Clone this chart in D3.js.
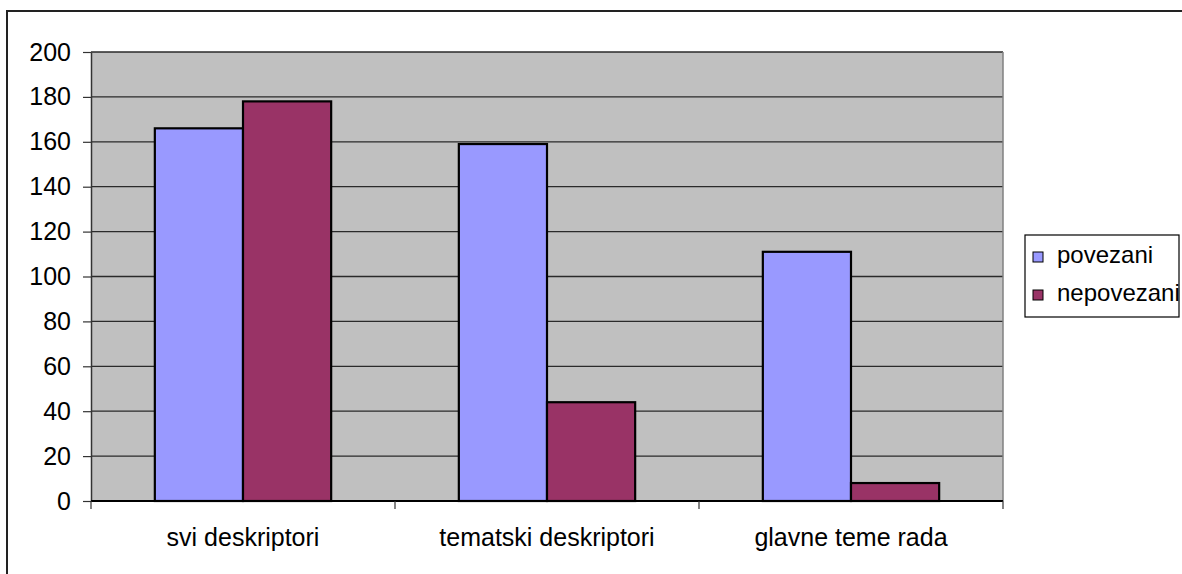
<!DOCTYPE html>
<html>
<head>
<meta charset="utf-8">
<script src="https://cdn.jsdelivr.net/npm/d3@7"></script>
<style>
  body { margin: 0; background: #fff; }
  svg { display: block; font-family: "Liberation Sans", Arial, sans-serif; }
</style>
</head>
<body>
<div id="chart"></div>
<script>
// Data
const categories = ['svi deskriptori', 'tematski deskriptori', 'glavne teme rada'];
const seriesNames = ['povezani', 'nepovezani'];
const povezani = [166, 159, 111];
const nepovezani = [178, 44, 8];
const yTicks = [0, 20, 40, 60, 80, 100, 120, 140, 160, 180, 200];
const colors = ['#9999ff', '#993366'];

const data = categories.map((c, i) => ({ cat: c, values: [povezani[i], nepovezani[i]] }));

// Config
const width = 1182;
const height = 574;
const plot = { left: 91, right: 1003, top: 52, bottom: 501 };

const svg = d3.select('#chart').append('svg')
  .attr('width', width)
  .attr('height', height);

// Outer frame (cropped on right and bottom)
svg.append('rect')
  .attr('x', 7).attr('y', 11)
  .attr('width', 1300).attr('height', 700)
  .attr('fill', '#fff')
  .attr('stroke', '#222')
  .attr('stroke-width', 2);

// Scales
const x0 = d3.scaleBand()
  .domain(categories)
  .range([plot.left, plot.right])
  .paddingInner(0.42)
  .paddingOuter(0.21);

const x1 = d3.scaleBand()
  .domain(seriesNames)
  .range([0, x0.bandwidth()]);

const y = d3.scaleLinear()
  .domain([0, 200])
  .range([plot.bottom, plot.top]);

// Plot background
svg.append('rect')
  .attr('x', plot.left).attr('y', plot.top)
  .attr('width', plot.right - plot.left)
  .attr('height', plot.bottom - plot.top)
  .attr('fill', '#c0c0c0');

// Gridlines
svg.append('g')
  .selectAll('line')
  .data(yTicks.filter(d => d > 0))
  .join('line')
  .attr('x1', plot.left).attr('x2', plot.right)
  .attr('y1', d => y(d)).attr('y2', d => y(d))
  .attr('stroke', '#2a2a2a')
  .attr('stroke-width', 1.3);

// Right edge of plot area
svg.append('line')
  .attr('x1', plot.right).attr('x2', plot.right)
  .attr('y1', plot.top).attr('y2', plot.bottom)
  .attr('stroke', '#808080')
  .attr('stroke-width', 1.5);

// Bars
svg.append('g')
  .selectAll('g')
  .data(data)
  .join('g')
  .attr('transform', d => `translate(${x0(d.cat)},0)`)
  .selectAll('rect')
  .data(d => d.values.map((v, i) => ({ key: seriesNames[i], value: v, i })))
  .join('rect')
  .attr('x', d => x1(d.key))
  .attr('width', x1.bandwidth())
  .attr('y', d => y(d.value))
  .attr('height', d => y(0) - y(d.value))
  .attr('fill', d => colors[d.i])
  .attr('stroke', '#000')
  .attr('stroke-width', 2.2);

// Y axis
const yAxis = svg.append('g')
  .attr('transform', `translate(${plot.left},0)`)
  .call(d3.axisLeft(y).tickValues(yTicks).tickSize(8).tickPadding(12).tickSizeOuter(0));
yAxis.select('.domain').attr('stroke', '#333').attr('stroke-width', 1.5);
yAxis.selectAll('.tick line').attr('stroke', '#333').attr('stroke-width', 1.2);
yAxis.selectAll('.tick text')
  .attr('font-size', 25)
  .attr('font-family', '"Liberation Sans", Arial, sans-serif')
  .attr('fill', '#000');

// X axis - ticks on category boundaries
const boundaries = [plot.left].concat(categories.map(c => x0(c) + x0.bandwidth() + x0.paddingOuter() * x0.step()));
const xAxis = svg.append('g');
xAxis.append('line')
  .attr('x1', plot.left).attr('x2', plot.right)
  .attr('y1', plot.bottom).attr('y2', plot.bottom)
  .attr('stroke', '#000').attr('stroke-width', 2);
xAxis.selectAll('.xtick')
  .data(boundaries)
  .join('line')
  .attr('class', 'xtick')
  .attr('x1', d => d).attr('x2', d => d)
  .attr('y1', plot.bottom).attr('y2', plot.bottom + 8)
  .attr('stroke', '#333').attr('stroke-width', 1.2);
xAxis.selectAll('text')
  .data(categories)
  .join('text')
  .attr('x', d => x0(d) + x0.bandwidth() / 2)
  .attr('y', 546)
  .attr('text-anchor', 'middle')
  .attr('font-size', 25)
  .attr('fill', '#000')
  .text(d => d);

// Legend
const legend = svg.append('g');
legend.append('rect')
  .attr('x', 1025).attr('y', 235)
  .attr('width', 154).attr('height', 82)
  .attr('fill', '#fff')
  .attr('stroke', '#000')
  .attr('stroke-width', 1.2);
const items = legend.selectAll('g')
  .data(seriesNames)
  .join('g')
  .attr('transform', (d, i) => `translate(1033,${252 + i * 38})`);
items.append('rect')
  .attr('width', 10).attr('height', 10)
  .attr('fill', (d, i) => colors[i])
  .attr('stroke', '#000')
  .attr('stroke-width', 1);
items.append('text')
  .attr('x', 24).attr('y', 11)
  .attr('font-size', 24)
  .attr('fill', '#000')
  .text(d => d);
</script>
</body>
</html>
